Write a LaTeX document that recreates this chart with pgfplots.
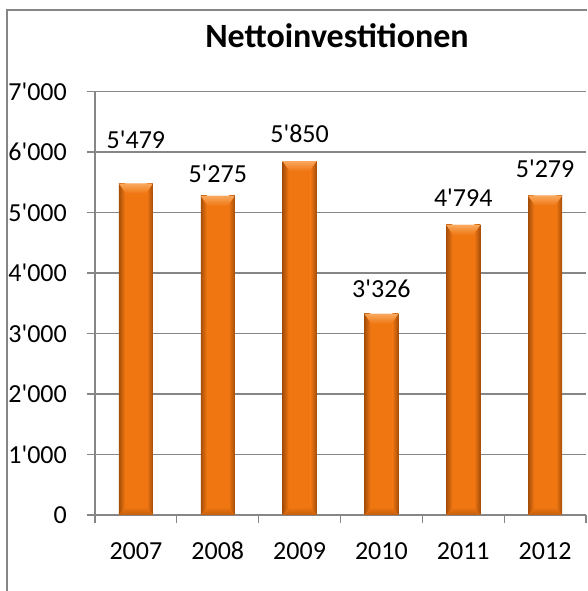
\documentclass[border=0pt]{standalone}
\usepackage{pgfplots}
\pgfplotsset{compat=1.18}
\usepackage{pgfplotstable}
\usepackage{fontspec}
\setmainfont{Carlito}[Ligatures=TeXOff]
\definecolor{gridc}{HTML}{868686}
\definecolor{barmain}{HTML}{F07612}
\definecolor{bardark}{HTML}{A54E08}
\definecolor{barlight}{HTML}{F9A85E}

\pgfplotstableread{
x ly v
0 6050 5479
1 5488 5275
2 6149 5850
3 3603 3326
4 5091 4794
5 5579 5279
}\labeldata

\pgfplotsset{
  mybar/.style={ybar, bar width=34pt, fill=barmain, draw=none, forget plot,
  path picture={
    \path[path picture={}] (path picture bounding box.north west) coordinate (nw)
          (path picture bounding box.north east) coordinate (ne)
          (path picture bounding box.south west) coordinate (sw)
          (path picture bounding box.south east) coordinate (se);
    \shade[path picture={}, left color=bardark, right color=barmain] (sw) rectangle ([xshift=6pt]nw);
    \shade[path picture={}, left color=barmain, right color=bardark] ([xshift=-6pt]se) rectangle (ne);
    \shade[path picture={}, top color=barlight, bottom color=barmain] (nw) -- (ne) -- ([xshift=-7pt,yshift=-10pt]ne) -- ([xshift=7pt,yshift=-10pt]nw) -- cycle;
    \shade[path picture={}, bottom color=bardark!60!barmain, top color=barmain] (sw) -- (se) -- ([xshift=-7pt,yshift=8pt]se) -- ([xshift=7pt,yshift=8pt]sw) -- cycle;
  }}
}

\begin{document}
\begin{tikzpicture}[x=1pt,y=1pt]
\useasboundingbox (0,0) rectangle (587,591);
\draw[gridc, line width=2pt] (7,0) -- (7,581) -- (587,581);
\node[font=\fontsize{34}{40}\selectfont\bfseries, anchor=base, inner sep=0pt] at (337,543) {Nettoinvestitionen};
\begin{axis}[
  at={(95pt,76pt)}, anchor=south west,
  scale only axis, width=491pt, height=423.5pt,
  xmin=-0.5, xmax=5.5, ymin=0, ymax=7000,
  axis x line*=bottom, axis y line*=left,
  axis line style={gridc, line width=1.2pt, -},
  ytick={0,1000,2000,3000,4000,5000,6000,7000},
  ymajorgrids, grid style={gridc, line width=1.2pt},
  tick align=outside, major tick length=8pt,
  ytick style={gridc, line width=1.2pt},
  xtick={-0.5,0.5,1.5,2.5,3.5,4.5,5.5},
  xticklabels={},
  xtick style={gridc, line width=1.2pt},
  extra x ticks={0,1,2,3,4,5},
  extra x tick labels={2007,2008,2009,2010,2011,2012},
  extra x tick style={major tick length=0pt, xtick style={draw=none}, grid=none},
  /pgf/number format/.cd, 1000 sep={\char39\relax}, assume math mode=true,
  /pgfplots/.cd,
  yticklabel style={font=\fontsize{26}{30}\selectfont, inner sep=0pt, xshift=-20pt, text=black},
  xticklabel style={font=\fontsize{26}{30}\selectfont, inner sep=0pt, yshift=-27pt, text=black},
]
\addplot[mybar] coordinates {(0,5479)};
\addplot[mybar] coordinates {(1,5275)};
\addplot[mybar] coordinates {(2,5850)};
\addplot[mybar] coordinates {(3,3326)};
\addplot[mybar] coordinates {(4,4794)};
\addplot[mybar] coordinates {(5,5279)};
\addplot[draw=none, mark=none, nodes near coords, point meta=explicit,
  nodes near coords style={anchor=base, inner sep=0pt, font=\fontsize{26}{30}\selectfont, text=black}]
  table[x=x, y=ly, meta=v] {\labeldata};
\end{axis}
\end{tikzpicture}
\end{document}
